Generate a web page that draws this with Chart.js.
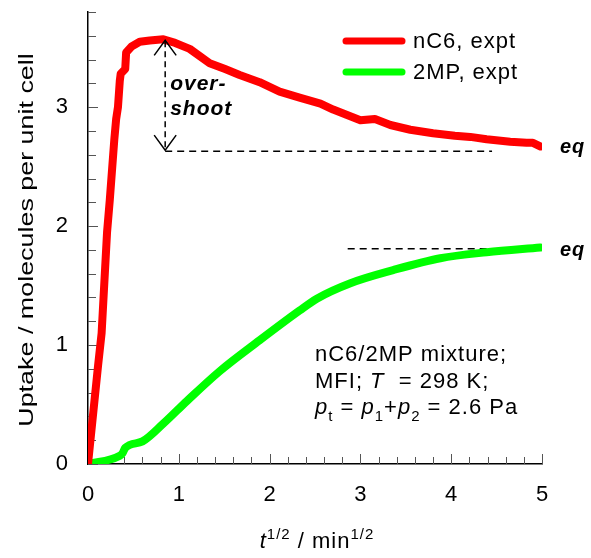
<!DOCTYPE html>
<html>
<head>
<meta charset="utf-8">
<script src="https://cdn.jsdelivr.net/npm/chart.js@4.4.1/dist/chart.umd.min.js"></script>
<style>
  html, body { margin: 0; padding: 0; background: #fff; }
  #wrap { width: 591px; height: 558px; position: relative; }
</style>
</head>
<body>
<div id="wrap"><canvas id="uptake"></canvas></div>
<script>
// nC6 experimental uptake vs t^1/2
const nC6T = [0, 0.11, 0.15, 0.21, 0.24, 0.29, 0.31, 0.33, 0.35, 0.36, 0.41, 0.42, 0.48, 0.57, 0.68, 0.83, 0.96, 1.12, 1.34, 1.51, 1.67, 1.89, 2.11, 2.33, 2.56, 2.70, 3.00, 3.16, 3.33, 3.55, 3.80, 4.04, 4.21, 4.39, 4.65, 4.83, 4.90, 4.98]
const nC6Up = [0, 0.82, 1.10, 1.95, 2.22, 2.73, 2.90, 3.00, 3.22, 3.28, 3.32, 3.46, 3.51, 3.55, 3.56, 3.57, 3.54, 3.49, 3.37, 3.32, 3.27, 3.21, 3.13, 3.08, 3.03, 2.98, 2.89, 2.90, 2.85, 2.81, 2.78, 2.76, 2.75, 2.73, 2.71, 2.70, 2.70, 2.67]

// 2MP experimental uptake vs t^1/2
const mpT = [0, 0.35, 0.38, 0.41, 0.6, 0.83, 1.09, 1.45, 1.89, 2.33, 2.52, 2.89, 3.36, 3.88, 4.39, 4.98]
const mpUp = [0, 0.07, 0.09, 0.135, 0.19, 0.34, 0.53, 0.78, 1.04, 1.29, 1.39, 1.52, 1.63, 1.73, 1.78, 1.82]

// dashed equilibrium guides: [tStart, tEnd, uptake]
const eqNC6 = [0.85, 4.45, 2.63]
const eqMP = [2.86, 4.45, 1.81]
// overshoot arrow: t, from uptake, to uptake
const overshoot = [0.85, 3.57, 2.63]

const xTicks = [0, 1, 2, 3, 4, 5]
const yTicks = [0, 1, 2, 3]

const FONT = "'Liberation Sans', Arial, sans-serif"

const zip = (a, b) => a.map((v, i) => ({ x: v, y: b[i] }))

// draw a run of text parts (italic / sub / sup) starting at x
function rich (ctx, x, y, parts, size) {
  parts.forEach(p => {
    const s = p.sub || p.sup ? Math.round(size * 0.68) : size
    ctx.font = (p.i ? 'italic ' : '') + s + 'px ' + FONT
    let dy = 0
    if (p.sub) dy = size * 0.3
    if (p.sup) dy = -size * 0.42
    ctx.fillText(p.t, x, y + dy)
    x += ctx.measureText(p.t).width
  })
  return x
}

function richWidth (ctx, parts, size) {
  let w = 0
  parts.forEach(p => {
    const s = p.sub || p.sup ? Math.round(size * 0.68) : size
    ctx.font = (p.i ? 'italic ' : '') + s + 'px ' + FONT
    w += ctx.measureText(p.t).width
  })
  return w
}

const decor = {
  id: 'decor',
  beforeDatasetsDraw (chart) {
    const { ctx, chartArea: a, scales: { x, y } } = chart
    ctx.save()
    ctx.strokeStyle = '#555'
    ctx.lineWidth = 1
    for (let i = 0; i <= 25; i++) {
      const px = Math.round(x.getPixelForValue(i * 0.2)) + 0.5
      const len = i % 5 === 0 ? 10 : 7
      ctx.beginPath()
      ctx.moveTo(px, a.bottom)
      ctx.lineTo(px, a.bottom - len)
      ctx.stroke()
    }
    for (let i = 0; i <= 19; i++) {
      const py = Math.round(y.getPixelForValue(i * 0.2)) + 0.5
      const len = i % 5 === 0 ? 10 : 8
      ctx.beginPath()
      ctx.moveTo(a.left, py)
      ctx.lineTo(a.left + len, py)
      ctx.stroke()
    }
    ctx.restore()
  },
  afterDraw (chart) {
    const { ctx, chartArea: a, scales: { x, y } } = chart
    ctx.save()
    ctx.fillStyle = '#000'
    ctx.strokeStyle = '#000'

    // overshoot arrow
    const ax = x.getPixelForValue(overshoot[0])
    const aTop = y.getPixelForValue(overshoot[1])
    const aBot = y.getPixelForValue(overshoot[2])
    ctx.lineWidth = 1.5
    ctx.setLineDash([6, 4])
    ctx.beginPath()
    ctx.moveTo(ax, aTop + 2)
    ctx.lineTo(ax, aBot - 2)
    ctx.stroke()
    ctx.setLineDash([])
    ctx.beginPath()
    ctx.moveTo(ax - 11, aTop + 16)
    ctx.lineTo(ax, aTop + 1)
    ctx.lineTo(ax + 11, aTop + 16)
    ctx.moveTo(ax - 11, aBot - 16)
    ctx.lineTo(ax, aBot - 1)
    ctx.lineTo(ax + 11, aBot - 16)
    ctx.stroke()

    ctx.letterSpacing = '1px'
    // over-/shoot label
    ctx.font = 'italic bold 21px ' + FONT
    ctx.textBaseline = 'alphabetic'
    ctx.textAlign = 'left'
    ctx.fillText('over-', ax + 5, 90)
    ctx.fillText('shoot', ax + 5, 115)

    // eq labels
    ctx.font = 'italic bold 20px ' + FONT
    ctx.textBaseline = 'middle'
    ctx.fillText('eq', 560, y.getPixelForValue(nC6Up[nC6Up.length - 1]) + 1)
    ctx.fillText('eq', 560, y.getPixelForValue(mpUp[mpUp.length - 1]) + 3)

    // legend
    ctx.lineCap = 'round'
    ctx.lineWidth = 7
    chart.data.datasets.slice(0, 2).forEach((ds, i) => {
      const ly = 41 + i * 31
      ctx.strokeStyle = ds.borderColor
      ctx.beginPath()
      ctx.moveTo(346, ly)
      ctx.lineTo(402, ly)
      ctx.stroke()
      ctx.font = '22px ' + FONT
      ctx.fillText(ds.label, 413, ly + 1)
    })

    // conditions note
    ctx.textBaseline = 'alphabetic'
    const size = 22
    rich(ctx, 315, 361, [{ t: 'nC6/2MP mixture;' }], size)
    rich(ctx, 315, 388, [{ t: 'MFI; ' }, { t: 'T', i: true }, { t: '  = 298 K;' }], size)
    rich(ctx, 315, 414, [
      { t: 'p', i: true }, { t: 't', sub: true }, { t: ' = ' },
      { t: 'p', i: true }, { t: '1', sub: true }, { t: '+' },
      { t: 'p', i: true }, { t: '2', sub: true }, { t: ' = 2.6 Pa' }
    ], size)

    // x axis title
    const xt = [{ t: 't', i: true }, { t: '1/2', sup: true }, { t: ' / min' }, { t: '1/2', sup: true }]
    const w = richWidth(ctx, xt, size)
    rich(ctx, (x.left + x.right) / 2 - w / 2 + 2, 548, xt, size)

    // y axis title (stretched along its reading direction)
    ctx.letterSpacing = '0px'
    ctx.translate(27, (a.top + a.bottom) / 2 + 2)
    ctx.rotate(-Math.PI / 2)
    ctx.scale(1.28, 1)
    ctx.font = '21px ' + FONT
    ctx.textAlign = 'center'
    ctx.textBaseline = 'middle'
    ctx.fillText('Uptake / molecules per unit cell', 0, 0)
    ctx.restore()
  }
}

new Chart(document.getElementById('uptake'), {
  type: 'line',
  data: {
    datasets: [
      {
        label: 'nC6, expt',
        data: zip(nC6T, nC6Up),
        borderColor: '#ff0000',
        borderWidth: 8,
        borderCapStyle: 'round',
        borderJoinStyle: 'round',
        pointRadius: 0,
        tension: 0
      },
      {
        label: '2MP, expt',
        data: zip(mpT, mpUp),
        borderColor: '#00ff00',
        borderWidth: 8,
        borderCapStyle: 'round',
        borderJoinStyle: 'round',
        pointRadius: 0,
        cubicInterpolationMode: 'monotone'
      },
      {
        label: 'eq nC6',
        data: [{ x: eqNC6[0], y: eqNC6[2] }, { x: eqNC6[1], y: eqNC6[2] }],
        borderColor: '#000',
        borderWidth: 1.5,
        borderDash: [7, 5],
        pointRadius: 0
      },
      {
        label: 'eq 2MP',
        data: [{ x: eqMP[0], y: eqMP[2] }, { x: eqMP[1], y: eqMP[2] }],
        borderColor: '#000',
        borderWidth: 1.5,
        borderDash: [7, 5],
        pointRadius: 0
      }
    ]
  },
  options: {
    responsive: true,
    maintainAspectRatio: false,
    animation: false,
    devicePixelRatio: 1,
    layout: { padding: { top: 12, right: 49, left: 0, bottom: 0 } },
    plugins: { legend: { display: false }, tooltip: { enabled: false } },
    scales: {
      x: {
        type: 'linear',
        min: 0,
        max: 5,
        grid: { display: false },
        border: { display: true, color: '#000', width: 1.5 },
        ticks: { stepSize: 1, color: '#000', padding: 10, maxRotation: 0, font: { family: FONT, size: 22 } },
        afterBuildTicks: s => { s.ticks = xTicks.map(v => ({ value: v })) },
        afterFit: s => { s.height = 94; s.paddingLeft = 0; s.paddingRight = 0 }
      },
      y: {
        min: 0,
        max: 3.8,
        grid: { display: false },
        border: { display: true, color: '#000', width: 1.5 },
        ticks: { color: '#000', padding: 12, font: { family: FONT, size: 22 } },
        afterBuildTicks: s => { s.ticks = yTicks.map(v => ({ value: v })) },
        afterFit: s => { s.width = 88; s.paddingTop = 0; s.paddingBottom = 0 }
      }
    }
  },
  plugins: [decor]
})
</script>
</body>
</html>
